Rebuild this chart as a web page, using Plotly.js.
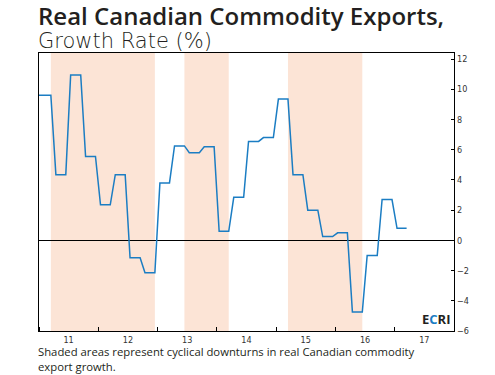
<!DOCTYPE html>
<html>
<head>
<meta charset="utf-8">
<script src="https://cdn.plot.ly/plotly-3.0.1.min.js"></script>
<style>html,body{margin:0;padding:0;background:#fff;}#chart{width:495px;height:375px;}</style>
</head>
<body>
<div id="chart"></div>
<script>
var months = [
  "2010-12-15",
  "2011-01-15","2011-02-15","2011-03-15","2011-04-15","2011-05-15","2011-06-15",
  "2011-07-15","2011-08-15","2011-09-15","2011-10-15","2011-11-15","2011-12-15",
  "2012-01-15","2012-02-15","2012-03-15","2012-04-15","2012-05-15","2012-06-15",
  "2012-07-15","2012-08-15","2012-09-15","2012-10-15","2012-11-15","2012-12-15",
  "2013-01-15","2013-02-15","2013-03-15","2013-04-15","2013-05-15","2013-06-15",
  "2013-07-15","2013-08-15","2013-09-15","2013-10-15","2013-11-15","2013-12-15",
  "2014-01-15","2014-02-15","2014-03-15","2014-04-15","2014-05-15","2014-06-15",
  "2014-07-15","2014-08-15","2014-09-15","2014-10-15","2014-11-15","2014-12-15",
  "2015-01-15","2015-02-15","2015-03-15","2015-04-15","2015-05-15","2015-06-15",
  "2015-07-15","2015-08-15","2015-09-15","2015-10-15","2015-11-15","2015-12-15",
  "2016-01-15","2016-02-15","2016-03-15","2016-04-15","2016-05-15","2016-06-15",
  "2016-07-15","2016-08-15","2016-09-15","2016-10-15","2016-11-15","2016-12-15",
  "2017-01-15","2017-02-15","2017-03-15"
];
var growth = [
  9.6,
  9.6, 9.6, 9.6, 4.35, 4.35, 4.35,
  10.95, 10.95, 10.95, 5.55, 5.55, 5.55,
  2.35, 2.35, 2.35, 4.35, 4.35, 4.35,
  -1.15, -1.15, -1.15, -2.15, -2.15, -2.15,
  3.8, 3.8, 3.8, 6.25, 6.25, 6.25,
  5.8, 5.8, 5.8, 6.2, 6.2, 6.2,
  0.6, 0.6, 0.6, 2.85, 2.85, 2.85,
  6.55, 6.55, 6.55, 6.8, 6.8, 6.8,
  9.35, 9.35, 9.35, 4.35, 4.35, 4.35,
  2.0, 2.0, 2.0, 0.25, 0.25, 0.25,
  0.5, 0.5, 0.5, -4.75, -4.75, -4.75,
  -1.0, -1.0, -1.0, 2.7, 2.7, 2.7,
  0.8, 0.8, 0.8
];
var downturnStarts = ["2011-03-15", "2013-06-15", "2015-03-15"];
var downturnEnds   = ["2012-12-15", "2014-03-15", "2016-06-15"];
var yTicks = [-6, -4, -2, 0, 2, 4, 6, 8, 10, 12];

var shapes = downturnStarts.map(function(s, i){
  return {type:"rect", xref:"x", yref:"paper", x0:s, x1:downturnEnds[i], y0:0, y1:1,
          fillcolor:"#fce4d6", line:{width:0}, layer:"below"};
});

var trace = {
  x: months, y: growth, type:"scatter", mode:"lines",
  line:{color:"#1b7dc3", width:1.5}, hoverinfo:"skip"
};

var font = "'Open Sans', 'Noto Sans', sans-serif";
var tickFont = {family:"'Liberation Sans Narrow', 'DejaVu Sans Condensed', sans-serif", size:9, color:"#333"};
var titleText = "<span style='font-size:24px;font-weight:600'>Real Canadian Commodity Exports,</span>" +
  "<br><span style='font-size:21px;font-weight:200;font-family:\"DejaVu Sans\", sans-serif'>Growth Rate (%)</span>";
var layout = {
  width:495, height:375,
  margin:{l:39, r:41, t:53, b:44},
  paper_bgcolor:"#fff", plot_bgcolor:"rgba(0,0,0,0)",
  showlegend:false,
  shapes: shapes,
  xaxis:{
    type:"date", range:["2011-01-01","2018-01-01"],
    tick0:"2011-01-01", dtick:"M12", ticklabelmode:"period", tickformat:"%y",
    ticks:"inside", ticklen:4, tickcolor:"#000", tickwidth:1,
    showgrid:false, zeroline:false,
    showline:true, linecolor:"#000", linewidth:1.2, mirror:true,
    tickfont:tickFont
  },
  yaxis:{
    side:"right", range:[-6, 12.4], tickvals:yTicks,
    ticks:"inside", ticklen:3, tickcolor:"#000",
    showgrid:false, zeroline:true, zerolinecolor:"#000", zerolinewidth:1,
    showline:true, linecolor:"#000", linewidth:1.2, mirror:true,
    tickfont:tickFont
  },
  annotations:[
    {xref:"paper", yref:"paper", x:-0.004, y:1, yshift:-1, xanchor:"left", yanchor:"bottom",
     text:titleText, showarrow:false, align:"left", borderpad:0,
     font:{family:font, size:18, color:"#231f20"}},
    {xref:"paper", yref:"paper", x:0.995, y:0, yshift:1, xanchor:"right", yanchor:"bottom",
     text:"<b><span style='color:#231f20'>E</span><span style='color:#1b7dc3'>C</span><span style='color:#231f20'>RI</span></b>",
     showarrow:false, font:{family:font, size:13, color:"#231f20"}},
    {xref:"paper", yref:"paper", x:-0.004, y:0, xanchor:"left", yanchor:"top",
     yshift:-12, align:"left", borderpad:0,
     text:"Shaded areas represent cyclical downturns in real Canadian commodity<br>export growth.",
     showarrow:false, font:{family:font, size:11.3, color:"#231f20"}}
  ]
};

Plotly.newPlot("chart", [trace], layout, {staticPlot:true, displayModeBar:false});
</script>
</body>
</html>
